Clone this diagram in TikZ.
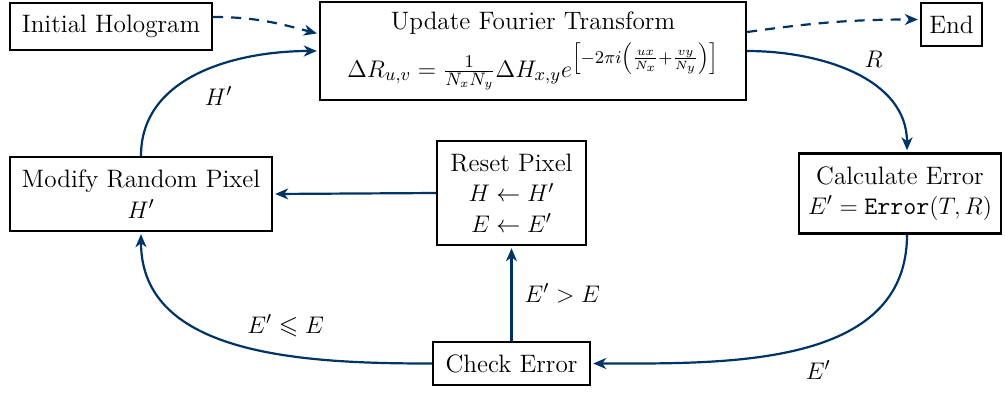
\documentclass[tikz,border=0pt]{standalone}
\usepackage{amsmath,amssymb}
\usetikzlibrary{arrows.meta}
\definecolor{flow}{RGB}{0,51,102}
\newcommand{\boxfont}{\fontsize{12.6}{15.2}\selectfont}
\begin{document}
\begin{tikzpicture}[x=0.5pt,y=0.5pt,
  box/.style={draw=black, line width=1.2pt, align=center, inner sep=0pt, font=\boxfont},
  conn/.style={draw=flow, line width=1.1pt, shorten >=1pt, -{Stealth[length=6.5pt,width=5.5pt,inset=2pt]}},
  dconn/.style={conn, dash pattern=on 5pt off 4pt},
  lbl/.style={font=\boxfont, inner sep=0pt}]
\useasboundingbox (0,0) rectangle (1005,-392);
\node[box, minimum width=101pt, minimum height=23.5pt] (init) at (111,-26.5) {Initial Hologram};
\node[box, minimum width=213pt, minimum height=49pt] (uft) at (533,-51)
  {Update Fourier Transform\\[3pt]
   $\Delta R_{u,v} = \frac{1}{N_xN_y}\Delta H_{x,y}e^{\left[-2\pi i\left(\frac{ux}{N_x}+\frac{vy}{N_y}\right)\right]}$};
\node[box, minimum width=30.5pt, minimum height=21.5pt] (end) at (951.5,-24.5) {End};
\node[box, minimum width=101pt, minimum height=40pt] (calc) at (900,-193.5)
  {Calculate Error\\ $E' = \texttt{Error}(T,R)$};
\node[box, minimum width=131pt, minimum height=37pt] (mod) at (141,-194)
  {Modify Random Pixel\\ $H'$};
\node[box, minimum width=74.5pt, minimum height=52pt] (reset) at (511.5,-193)
  {Reset Pixel\\ $H \leftarrow H'$\\ $E \leftarrow E'$};
\node[box, minimum width=78.5pt, minimum height=21.5pt] (check) at (511.5,-363.5) {Check Error};

\draw[dconn] ([yshift=4.75pt]init.east) to[out=0,in=165] ([yshift=8.5pt]uft.west);
\draw[dconn] ([yshift=9.5pt]uft.east) to[out=8,in=180] ([yshift=2.5pt]end.west);
\draw[conn] (uft.east) to[out=0,in=90]
  node[lbl, pos=0.5, xshift=9.5pt, yshift=7.5pt] {$R$} ([xshift=3.5pt]calc.north);
\draw[conn] ([xshift=3.5pt]calc.south) to[out=-90,in=0]
  node[lbl, pos=0.5, xshift=9.5pt, yshift=-10.5pt] {$E'$} (check.east);
\draw[conn] (check.north) -- node[lbl, pos=0.5, right=6pt] {$E' > E$} (reset.south);
\draw[conn] (reset.west) -- (mod.east);
\draw[conn] (check.west) to[out=180,in=-90]
  node[lbl, pos=0.5, xshift=23pt, yshift=9.5pt] {$E' \leqslant E$} (mod.south);
\draw[conn] (mod.north) to[out=90,in=180]
  node[lbl, pos=0.5, xshift=9.5pt, yshift=-11.5pt] {$H'$} (uft.west);
\end{tikzpicture}
\end{document}
